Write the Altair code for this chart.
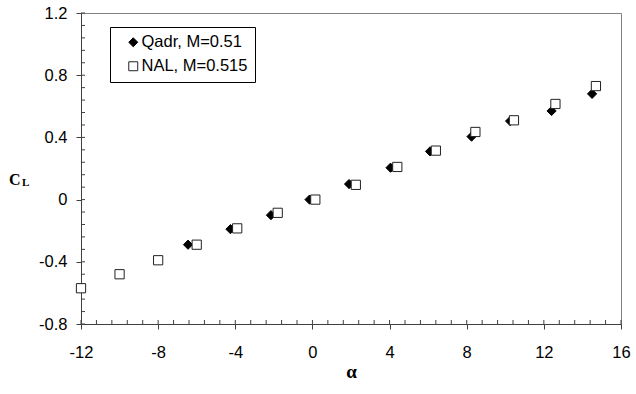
import altair as alt
import numpy as np
import pandas as pd

# Lift coefficient vs angle of attack
nal_alpha = [-12.0, -10.0, -8.0, -6.0, -3.9, -1.8, 0.15, 2.25, 4.4, 6.4, 8.45, 10.45, 12.6, 14.7]
nal_cl = [-0.57, -0.48, -0.39, -0.29, -0.185, -0.085, 0.0, 0.095, 0.21, 0.315, 0.435, 0.51, 0.615, 0.73]

qadr_alpha = [-6.45, -4.25, -2.15, -0.15, 1.9, 4.05, 6.1, 8.25, 10.25, 12.4, 14.5]
qadr_cl = [-0.29, -0.19, -0.10, 0.0, 0.10, 0.205, 0.31, 0.405, 0.505, 0.57, 0.68]

series_names = ["Qadr, M=0.51", "NAL, M=0.515"]

x_ticks = [-12, -8, -4, 0, 4, 8, 12, 16]
y_ticks = [-0.8, -0.4, 0, 0.4, 0.8, 1.2]

W, H = 540, 311
AXIS_COLOR = "#404040"
FONT_SIZE = 16.5

# Qadr rows first so the open squares are drawn over the diamonds
points = pd.DataFrame({
    "alpha": qadr_alpha + nal_alpha,
    "cl": qadr_cl + nal_cl,
    "series": [series_names[0]] * len(qadr_alpha) + [series_names[1]] * len(nal_alpha),
})

x_minor = pd.DataFrame({"v": np.round(np.arange(-12, 16.001, 0.8), 3)})
y_minor = pd.DataFrame({"v": np.round(np.arange(-0.8, 1.2001, 0.08), 3)})

x_scale = alt.Scale(domain=[-12, 16], nice=False, zero=False)
y_scale = alt.Scale(domain=[-0.8, 1.2], nice=False, zero=False)

legend = alt.Legend(
    title=None,
    orient="none",
    legendX=29,
    legendY=14,
    direction="vertical",
    strokeColor="black",
    fillColor="white",
    padding=7,
    symbolOffset=8,
    labelOffset=0,
    rowPadding=7,
    symbolSize=80,
    symbolStrokeWidth=1,
    labelFont="Liberation Sans",
    labelFontSize=FONT_SIZE,
    labelColor="black",
)

pts = alt.Chart(points).mark_point(size=85, strokeWidth=1, opacity=1, filled=False).encode(
    x=alt.X(
        "alpha:Q",
        scale=x_scale,
        axis=alt.Axis(
            values=x_ticks,
            labelExpr="'' + datum.value",
            labelFlush=False,
            title="α",
            titleFont="Liberation Serif",
            titleFontWeight="bold",
            titleFontSize=19,
            titleColor="black",
            titlePadding=2,
            labelPadding=15,
        ),
    ),
    y=alt.Y(
        "cl:Q",
        scale=y_scale,
        axis=alt.Axis(
            values=y_ticks,
            labelExpr="'' + datum.value",
            labelFlush=False,
            title="",
            labelPadding=9,
        ),
    ),
    shape=alt.Shape(
        "series:N",
        scale=alt.Scale(domain=series_names, range=["diamond", "square"]),
        legend=legend,
    ),
    fill=alt.Fill(
        "series:N",
        scale=alt.Scale(domain=series_names, range=["black", "white"]),
        legend=legend,
    ),
    stroke=alt.Stroke(
        "series:N",
        scale=alt.Scale(domain=series_names, range=["black", "#222222"]),
        legend=legend,
    ),
)

# Inward ticks along both axes
x_inner = alt.Chart(x_minor).mark_rule(color=AXIS_COLOR, strokeWidth=1).encode(
    x=alt.X("v:Q", scale=x_scale),
    y=alt.value(H),
    y2=alt.value(H - 4),
)
y_inner = alt.Chart(y_minor).mark_rule(color=AXIS_COLOR, strokeWidth=1).encode(
    y=alt.Y("v:Q", scale=y_scale),
    x=alt.value(0),
    x2=alt.value(4),
)

# Y-axis title C with subscript L
c_text = alt.Chart(pd.DataFrame({"t": ["C"]})).mark_text(
    font="Liberation Serif", fontWeight="bold", fontSize=16, align="left",
    baseline="alphabetic", color="black",
).encode(text="t:N", x=alt.value(-72), y=alt.value(171.5))
l_text = alt.Chart(pd.DataFrame({"t": ["L"]})).mark_text(
    font="Liberation Serif", fontWeight="bold", fontSize=11, align="left",
    baseline="alphabetic", color="black",
).encode(text="t:N", x=alt.value(-59), y=alt.value(173))

chart = alt.layer(x_inner, y_inner, pts, c_text, l_text).properties(
    width=W,
    height=H,
    autosize=alt.AutoSizeParams(type="none"),
    padding={"left": 81, "top": 13, "right": 15, "bottom": 70},
    background="white",
).configure_view(
    stroke="#808080", strokeWidth=1
).configure_axis(
    grid=False,
    domainColor=AXIS_COLOR,
    domainWidth=1,
    tickColor=AXIS_COLOR,
    tickSize=5,
    tickWidth=1,
    labelFont="Liberation Sans",
    labelFontSize=FONT_SIZE,
    labelColor="black",
)

chart.save("out.html", embed_options={"renderer": "svg", "actions": False})
